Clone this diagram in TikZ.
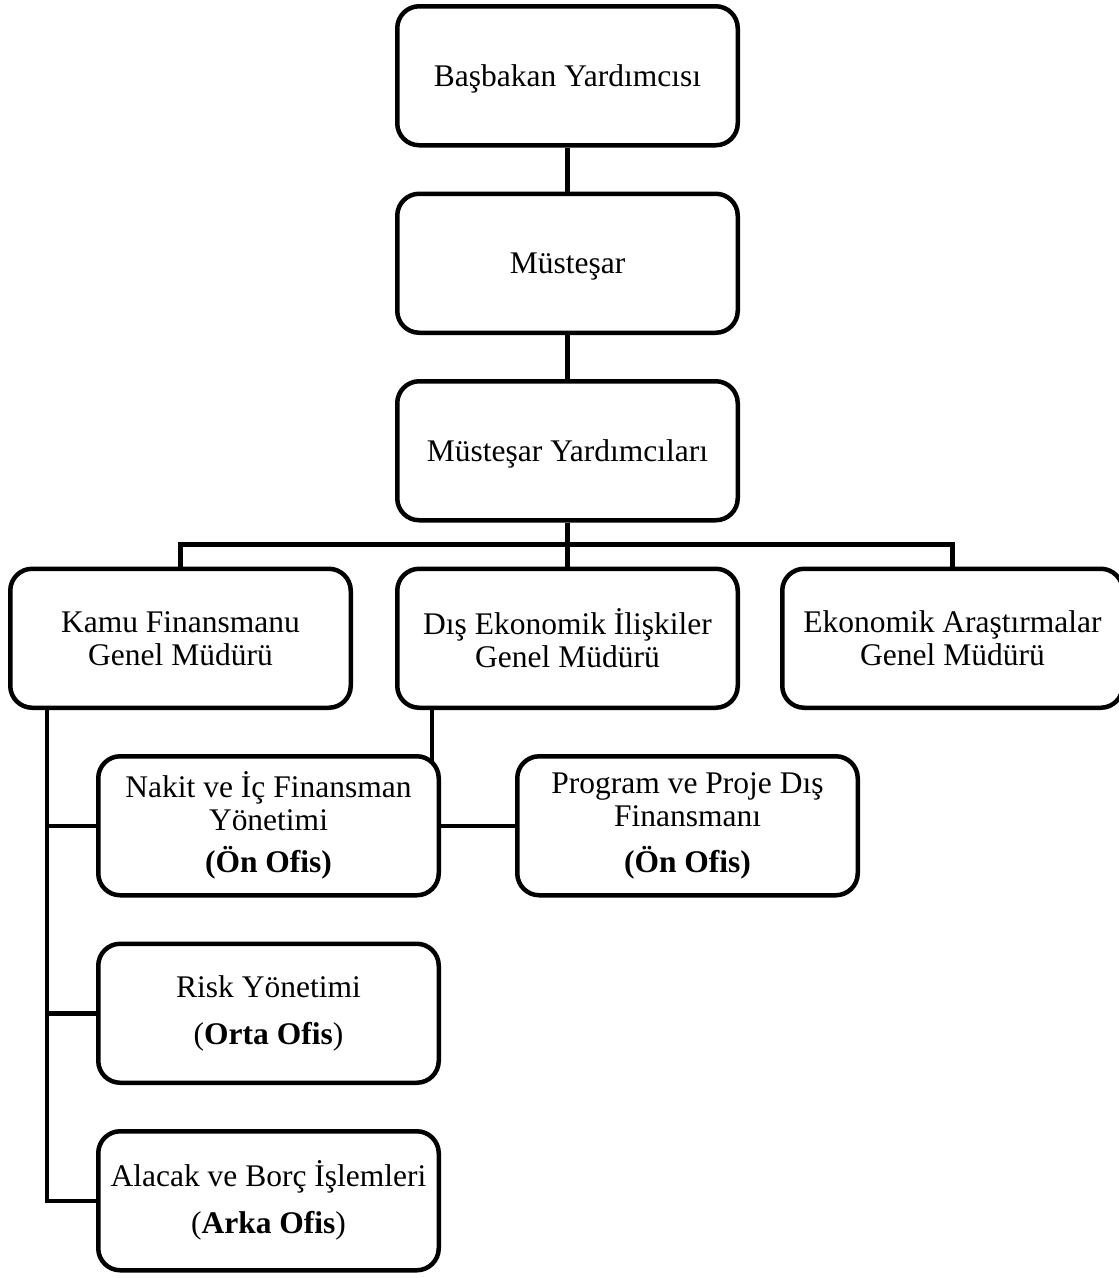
\documentclass[tikz,border=0pt]{standalone}
\usepackage{fontspec}
\setmainfont{Liberation Serif}
\usetikzlibrary{positioning, backgrounds}

\begin{document}
\begin{tikzpicture}[node distance=44pt,
		birim/.style={draw, fill=white, line width=4.5pt, rounded corners=22pt, minimum width=340.5pt, minimum height=139pt, inner sep=2pt, align=center, font=\fontsize{31.5}{33}\selectfont},
		tek/.style={text height=28pt, text depth=7pt},
		kol/.style={line width=4.5pt}]
			\useasboundingbox (0,0) rectangle (1119pt,-1278pt);
			\node[birim, tek] at (567.5pt,-75.75pt)             (basbakan)  {Başbakan Yardımcısı};
			\node[birim, tek, below=of basbakan]                (mustesar)  {Müsteşar};
			\node[birim, tek, below=of mustesar]                (yardimci)  {Müsteşar Yardımcıları};
			\node[birim, below=of yardimci]                     (dis)       {Dış Ekonomik İlişkiler\\Genel Müdürü};
			\node[birim, left=42pt of dis]                      (kamu)      {Kamu Finansmanu\\Genel Müdürü};
			\node[birim, right=40pt of dis]                     (ekonomik)  {Ekonomik Araştırmalar\\Genel Müdürü};
			\node[birim, below=of kamu, xshift=88pt]            (nakit)     {Nakit ve İç Finansman\\Yönetimi\\[9pt]\textbf{(Ön Ofis)}};
			\node[birim, right=74pt of nakit]                   (program)   {Program ve Proje Dış\\Finansmanı\\[13pt]\textbf{(Ön Ofis)}};
			\node[birim, below=of nakit]                        (risk)      {Risk Yönetimi\\[14pt](\textbf{Orta Ofis})};
			\node[birim, below=of risk]                         (alacak)    {Alacak ve Borç İşlemleri\\[14pt](\textbf{Arka Ofis})};
			
			\coordinate[below=22pt of yardimci]                 (bus);
			\coordinate (kamu kol) at ([xshift=-133.5pt]kamu.center);
			\coordinate (dis kol)  at ([xshift=-135.5pt]dis.center);
			
			\begin{scope}[on background layer]
			\draw[kol] (basbakan) -- (mustesar);
			\draw[kol] (mustesar) -- (yardimci);
			\draw[kol] (yardimci) -- (dis);
			\draw[kol] (kamu) |- (bus) -| (ekonomik);
			\draw[kol] (kamu kol) |- (alacak);
			\draw[kol] (kamu kol |- nakit) -- (nakit);
			\draw[kol] (kamu kol |- risk) -- (risk);
			\draw[kol] (dis kol) |- (program);
			\end{scope}
		\end{tikzpicture}
\end{document}
